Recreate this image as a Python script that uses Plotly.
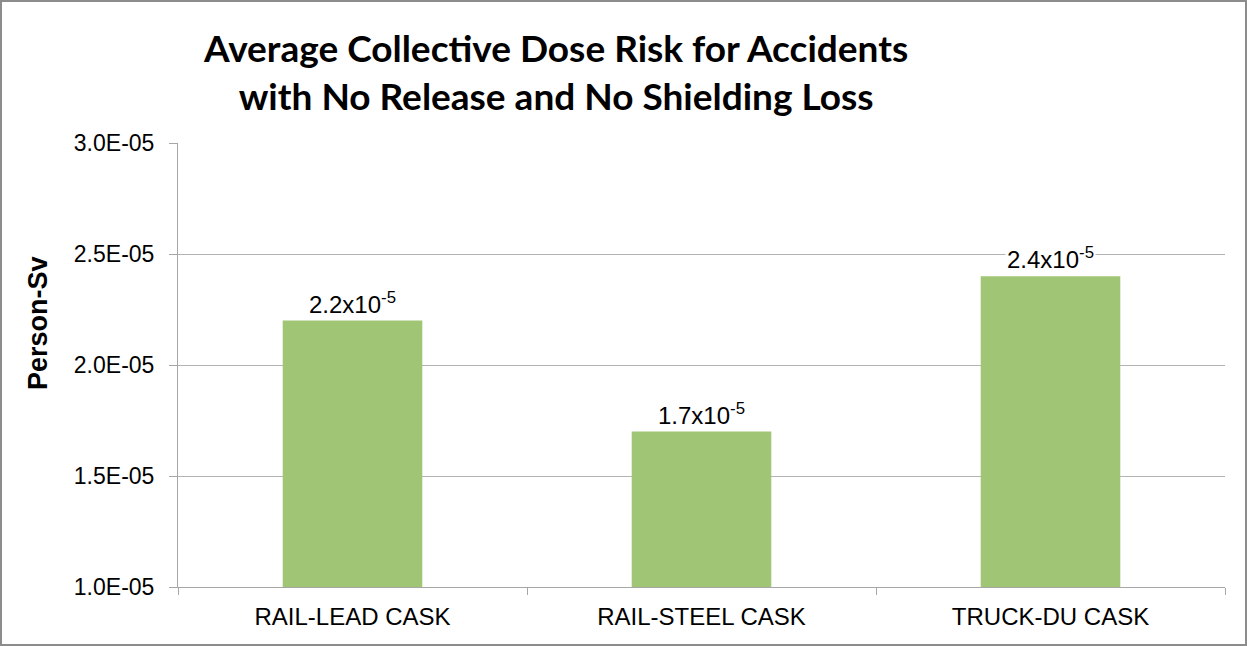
import plotly.graph_objects as go

categories = ["RAIL-LEAD CASK", "RAIL-STEEL CASK", "TRUCK-DU CASK"]
values = [2.2e-5, 1.7e-5, 2.4e-5]
value_labels = ["2.2x10<sup>-5</sup>", "1.7x10<sup>-5</sup>", "2.4x10<sup>-5</sup>"]
y_tickvals = [1.0e-5, 1.5e-5, 2.0e-5, 2.5e-5, 3.0e-5]
y_ticktext = ["1.0E-05", "1.5E-05", "2.0E-05", "2.5E-05", "3.0E-05"]

L, R, T, B = 178, 22, 143, 59
PW, PH = 1247 - L - R, 646 - T - B

fig = go.Figure()
fig.add_trace(go.Bar(x=categories, y=values, marker=dict(color="#A0C675", line=dict(width=0)),
                     width=0.4, showlegend=False))

for c, v, t in zip(categories, values, value_labels):
    fig.add_annotation(x=c, y=v, text=t, showarrow=False, yanchor="bottom", yshift=1,
                       bgcolor="white", borderpad=1,
                       font=dict(family="Liberation Sans", size=24, color="black"))

fig.add_annotation(xref="paper", yref="paper", x=(555 - L) / PW, y=1.0, yshift=T - 23,
                   xanchor="center", yanchor="top",
                   text="Average Collective Dose Risk for Accidents<br>with No Release and No Shielding Loss",
                   showarrow=False, align="center",
                   font=dict(family="Lato", size=37, color="black", weight="bold"))

fig.add_annotation(xref="paper", yref="paper", x=(38 - L) / PW, y=(587 - 323) / PH,
                   xanchor="center", yanchor="middle", textangle=-90,
                   text="<b>Person-Sv</b>", showarrow=False,
                   font=dict(family="Liberation Sans", size=27, color="black"))

fig.update_layout(
    width=1247, height=646,
    margin=dict(l=L, r=R, t=T, b=B),
    paper_bgcolor="white", plot_bgcolor="white",
    bargap=0.6,
    xaxis=dict(showline=True, linecolor="#A6A6A6", linewidth=1, ticks="outside", tickson="boundaries",
               ticklen=7, tickcolor="#A6A6A6", showgrid=False, ticklabelstandoff=8,
               tickfont=dict(family="Liberation Sans", size=24, color="black")),
    yaxis=dict(range=[1.0e-5, 3.0e-5], tickvals=y_tickvals, ticktext=y_ticktext,
               showline=True, linecolor="#A6A6A6", linewidth=1, ticks="outside", ticklen=8,
               tickcolor="#A6A6A6", showgrid=True, gridcolor="#B3B3B3", gridwidth=1,
               zeroline=False, ticklabelstandoff=10,
               tickfont=dict(family="Liberation Sans", size=23, color="black")),
)

# outer border of the chart area
fig.add_shape(type="rect", xref="paper", yref="paper",
              x0=-(L - 1) / PW, x1=1 + (R - 1) / PW, y0=-(B - 1) / PH, y1=1 + (T - 1) / PH,
              line=dict(color="#8C8C8C", width=2), fillcolor="rgba(0,0,0,0)")

fig.write_html("out.html")
